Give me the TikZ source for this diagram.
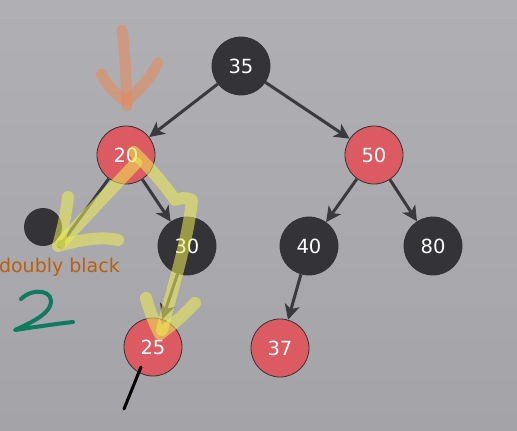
\documentclass[tikz,border=0pt]{standalone}
\usepackage{fontspec}
\setmainfont{DejaVu Sans}
\usetikzlibrary{arrows.meta}
\definecolor{bgtop}{HTML}{B0AFB3}
\definecolor{bgbot}{HTML}{A4A3A7}
\definecolor{nblack}{HTML}{343337}
\definecolor{nred}{HTML}{DC5A61}
\definecolor{edgec}{HTML}{3A393D}
\definecolor{hly}{HTML}{EEEE55}
\definecolor{hlo}{HTML}{E8895A}
\definecolor{txto}{HTML}{B8600E}
\definecolor{grn}{HTML}{0E7B5C}
\tikzset{
  x=1pt, y=-1pt,
  tnode/.style={circle, minimum size=58pt, inner sep=0pt, draw=black!80, line width=0.8pt,
     text=white, font=\fontsize{19.5}{22}\selectfont},
  bnode/.style={tnode, fill=nblack},
  rnode/.style={tnode, fill=nred},
  edge/.style={draw=edgec, line width=3pt, -{Stealth[length=15pt,width=15pt,inset=4pt]}},
  hl/.style={draw=hly, opacity=0.55, line width=12pt, line cap=round, line join=round},
  hlorange/.style={draw=hlo, opacity=0.55, line width=11pt, line cap=round, line join=round},
}
\begin{document}
\begin{tikzpicture}
\shade[top color=bgtop, bottom color=bgbot] (0,0) rectangle (517,431);
\useasboundingbox (0,0) rectangle (517,431);

\node[bnode] (n35) at (241,66) {35};
\node[rnode] (n20) at (126,155) {20};
\node[rnode] (n50) at (374,155) {50};
\node[bnode] (n30) at (187,246) {30};
\node[bnode] (n40) at (309,246) {40};
\node[bnode] (n80) at (433,246) {80};
\node[rnode] (n25) at (153,347) {25};
\node[rnode] (n37) at (280,348) {37};
\node[circle, fill=nblack, minimum size=38pt, inner sep=0pt] (nnull) at (43,227) {};
\coordinate (nullend) at (61,244);

\draw[edge] (n35) -- (n20);
\draw[edge] (n35) -- (n50);
\draw[edge] (n20) -- (n30);
\draw[edge] (n30) -- (n25);
\draw[edge] (n50) -- (n40);
\draw[edge] (n50) -- (n80);
\draw[edge] (n40) -- (n37);
\draw[draw=edgec, line width=3pt] (n20) -- (nullend);
\fill[nblack] (nullend) circle (4.5pt);

\node[text=txto, font=\fontsize{19}{21}\selectfont, anchor=base east, inner sep=0pt] (dbl) at (120,272) {doubly black};

% handwritten green 2
\draw[grn, line width=4pt, line cap=round, line join=round]
  (21,299) .. controls (33,287) and (56,290) .. (50,306)
  .. controls (46,316) and (28,324) .. (15,330)
  .. controls (35,327) and (55,324) .. (73,322);

% handwritten black stroke
\draw[black, line width=3pt, line cap=round] (141,367) -- (124,409);

% orange arrow
\draw[hlorange] (122,30) .. controls (126,60) and (126,85) .. (127,106);
\draw[hlorange] (101,74) .. controls (110,90) and (120,98) .. (127,101) .. controls (138,92) and (150,78) .. (158,63);

% yellow highlighter strokes
\draw[hl] (136,163) -- (62,242);
\draw[hl] (68,197) .. controls (66,215) and (62,232) .. (58,246) .. controls (80,240) and (100,236) .. (118,240);
\draw[hl] (134,152) .. controls (150,168) and (165,185) .. (175,200) .. controls (180,198) and (186,197) .. (192,200)
  .. controls (188,240) and (172,290) .. (162,330);
\draw[hl] (146,298) .. controls (150,312) and (155,325) .. (160,334) .. controls (172,325) and (184,315) .. (195,303);
\end{tikzpicture}
\end{document}
